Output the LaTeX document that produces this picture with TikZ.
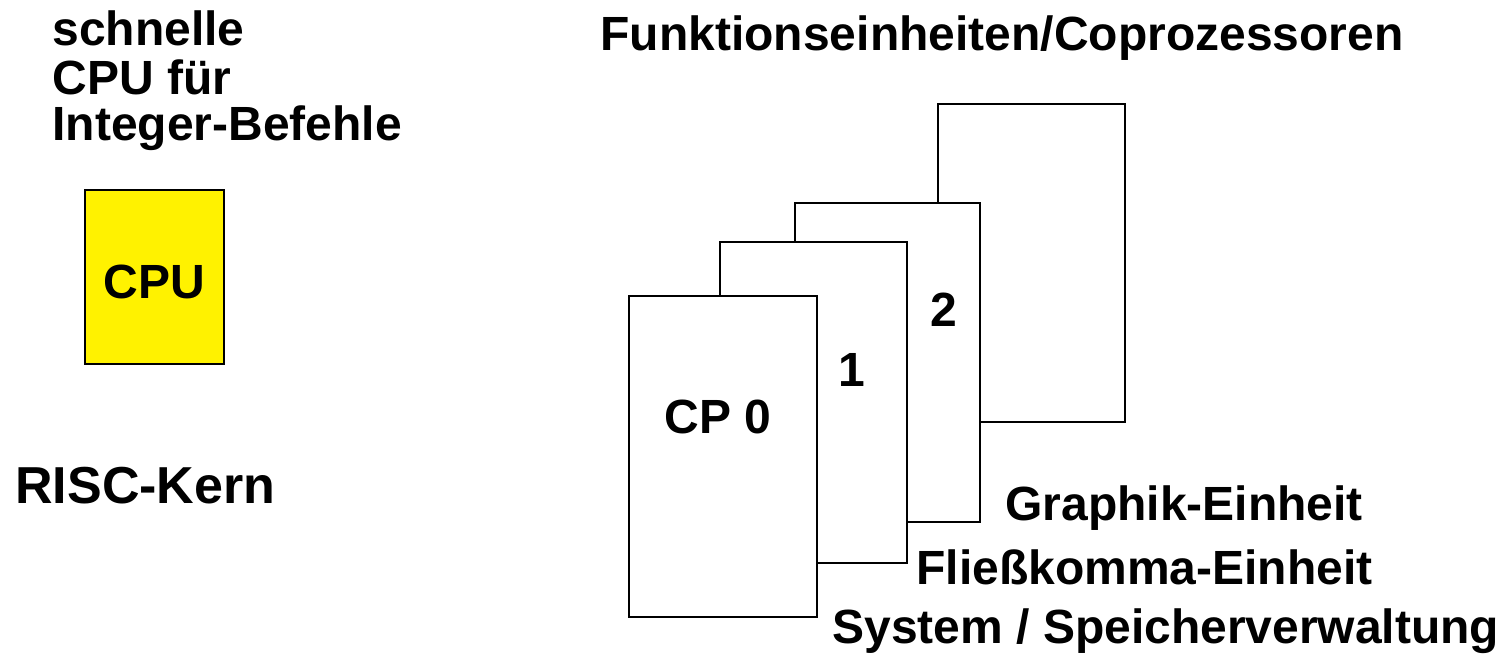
\documentclass[tikz,border=0pt]{standalone}
\usepackage{fontspec}
\setmainfont{Liberation Sans}
\begin{document}
\begin{tikzpicture}[x=0.5pt,y=-0.5pt,
  card/.style={draw=black,line width=1pt,fill=white,inner sep=0pt},
  lbl/.style={inner sep=0pt,font=\fontsize{24}{24}\selectfont\bfseries},
  yellowbox/.style={draw=black,line width=1pt,fill=yellow,inner sep=0pt}]
\useasboundingbox (0,0) rectangle (1508,653);
% left part
\node[lbl,anchor=base west] (t1) at (52,45) {schnelle};
\node[lbl,anchor=base west] (t2) at (52,94) {CPU für};
\node[lbl,anchor=base west] (t3) at (52,140) {Integer-Befehle};
\node[yellowbox,minimum width=69.5pt,minimum height=87pt] (cpu) at (154.5,277) {};
\node[lbl,anchor=base] (cputxt) at (154.5,298) {CPU};
\node[lbl,anchor=base west,font=\fontsize{26}{26}\selectfont\bfseries] (risc) at (15,503) {RISC-Kern};
% right part
\node[lbl,anchor=base] (title) at (1002,50) {Funktionseinheiten/Coprozessoren};
\node[card,minimum width=93.5pt,minimum height=159pt] (r3) at (1031.5,263) {};
\node[card,minimum width=92.5pt,minimum height=159.5pt] (r2) at (887.5,362.5) {};
\node[card,minimum width=93.5pt,minimum height=160.5pt] (r1) at (813.5,402.5) {};
\node[card,minimum width=94pt,minimum height=160.5pt] (r0) at (723,456.5) {};
\node[lbl,anchor=base] (l2) at (944,326) {2};
\node[lbl,anchor=base] (l1) at (852,386) {1};
\node[lbl,anchor=base] (l0) at (718,433) {CP 0};
\node[lbl,anchor=base west] (g) at (1005,520) {Graphik-Einheit};
\node[lbl,anchor=base west] (f) at (916,584) {Fließkomma-Einheit};
\node[lbl,anchor=base west] (s) at (832,643) {System / Speicherverwaltung};
\end{tikzpicture}
\end{document}
